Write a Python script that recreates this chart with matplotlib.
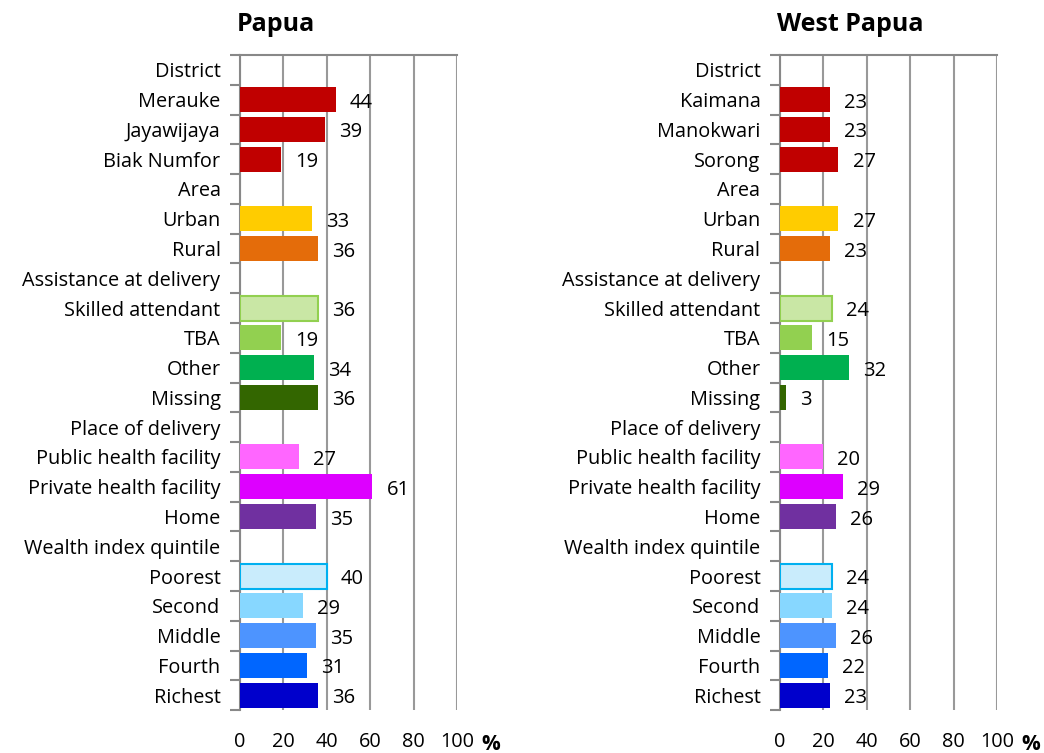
import matplotlib.pyplot as plt
import numpy as np

plt.rcParams['font.family'] = ['Open Sans', 'DejaVu Sans']

labels = ['District', 'Merauke', 'Jayawijaya', 'Biak Numfor', 'Area', 'Urban', 'Rural',
          'Assistance at delivery', 'Skilled attendant', 'TBA', 'Other', 'Missing',
          'Place of delivery', 'Public health facility', 'Private health facility', 'Home',
          'Wealth index quintile', 'Poorest', 'Second', 'Middle', 'Fourth', 'Richest']
labels_wp = ['District', 'Kaimana', 'Manokwari', 'Sorong'] + labels[4:]

papua = [None, 44, 39, 19, None, 33, 36, None, 36, 19, 34, 36,
         None, 27, 61, 35, None, 40, 29, 35, 31, 36]
west_papua = [None, 23, 23, 27, None, 27, 23, None, 24, 15, 32, 3,
              None, 20, 29, 26, None, 24, 24, 26, 22, 23]

fills = [None, '#C00000', '#C00000', '#C00000', None, '#FFCC00', '#E46C0A', None,
         '#C9E7A5', '#92D050', '#00B050', '#336600', None, '#FF66FF', '#DD00FF', '#7030A0',
         None, '#C9ECFC', '#87D7FF', '#4D94FF', '#0066FF', '#0000CC']
edges = {8: '#92D050', 17: '#00B0F0'}

fig = plt.figure(figsize=(10.44, 7.53), dpi=100)


def panel(left, vals, cats, title):
    ax = fig.add_axes([left, 0.057, 0.208, 0.87])
    n = len(cats)
    y = np.arange(n)
    for i, v in enumerate(vals):
        if v is None:
            continue
        ec = edges.get(i, fills[i])
        ax.barh(i, v, height=0.84, color=fills[i], edgecolor=ec,
                linewidth=1.5 if i in edges else 0, zorder=3)
        ax.text(v + 6.5, i + 0.1, str(v), va='center', ha='left', fontsize=14.5, zorder=4)
    ax.set_xlim(0, 100)
    ax.set_ylim(n - 0.5, -0.5)
    ax.set_xticks(range(0, 101, 20))
    ax.set_yticks(y)
    ax.set_yticklabels(cats, fontsize=14.3)
    ax.set_yticks(np.arange(-0.5, n, 1), minor=True)
    ax.tick_params(axis='y', which='major', length=0, pad=14)
    ax.tick_params(axis='y', which='minor', length=7, color='#888888', width=1.5)
    ax.tick_params(axis='x', length=0, pad=16, labelsize=14.3)
    ax.grid(axis='x', color='#999999', linewidth=1.5, zorder=0)
    for s in ['right', 'bottom']:
        ax.spines[s].set_visible(False)
    for s in ['left', 'top']:
        ax.spines[s].set_color('#888888')
        ax.spines[s].set_linewidth(1.5)
    ax.spines['top'].set_zorder(5)
    ax.set_title(title, loc='left', fontsize=18, fontweight='bold', x=-0.015, pad=17)
    ax.text(1.11, -0.052, '%', transform=ax.transAxes, fontsize=15, fontweight='bold',
            ha='left', va='center', clip_on=False)
    return ax


panel(0.2299, papua, labels, 'Papua')
panel(0.747, west_papua, labels_wp, 'West Papua')

fig.savefig('out.png', dpi=100)
